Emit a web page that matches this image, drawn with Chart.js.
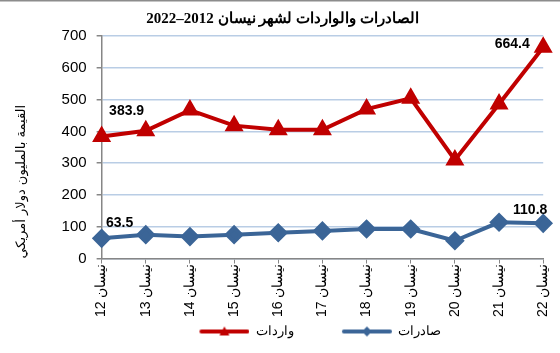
<!DOCTYPE html>
<html>
<head>
<meta charset="utf-8">
<script src="https://cdn.jsdelivr.net/npm/chart.js@4/dist/chart.umd.min.js"></script>
<style>
  html, body { margin: 0; padding: 0; background: #fff; }
  #wrap { width: 560px; height: 353px; }
</style>
</head>
<body>
<div id="wrap"><canvas id="chart" width="560" height="353"></canvas></div>
<script>
const years = ['12', '13', '14', '15', '16', '17', '18', '19', '20', '21', '22'];
const exportsData = [63.5, 75, 69, 75, 81, 87, 93, 93, 56, 114, 110.8];
const importsData = [383.9, 402, 467, 418, 405, 405, 470, 504, 310, 486, 664.4];
const yTicks = [0, 100, 200, 300, 400, 500, 600, 700];

const RLE = '\u202B', PDF = '\u202C';
const labels = years.map(y => RLE + 'نيسان ' + y + PDF);

const RED = '#c00000';
const BLUE = '#3b6597';
const AXIS = '#868686';

// legend swatch: a line with the marker in the middle, blank space on its left
function swatch(color, style) {
    const c = document.createElement('canvas');
    c.width = 90; c.height = 12;
    const g = c.getContext('2d');
    g.strokeStyle = color; g.fillStyle = color;
    g.lineWidth = 4; g.lineCap = 'round';
    g.beginPath(); g.moveTo(42, 6); g.lineTo(88, 6); g.stroke();
    g.beginPath();
    if (style === 'triangle') {
        g.moveTo(65, 1); g.lineTo(70, 10); g.lineTo(60, 10);
    } else {
        g.moveTo(65, 1); g.lineTo(70, 6); g.lineTo(65, 11); g.lineTo(60, 6);
    }
    g.closePath(); g.fill();
    return c;
}

// value labels on first/last points + top frame line
const valueLabels = {
    id: 'valueLabels',
    afterLayout(chart) {
        // nudge the legend a bit left of the plot centre
        chart.legend.left -= 22;
        chart.legend.right -= 22;
    },
    afterDatasetsDraw(chart) {
        const ctx = chart.ctx;
        const marks = [
            { ds: 0, i: 0, dx: 18, dy: -15 },
            { ds: 0, i: 10, dx: -13, dy: -13 },
            { ds: 1, i: 0, dx: 25, dy: -25 },
            { ds: 1, i: 10, dx: -31, dy: -3 }
        ];
        ctx.save();
        ctx.font = 'bold 14px "Liberation Sans", Arial, sans-serif';
        ctx.fillStyle = '#000';
        ctx.textAlign = 'center';
        ctx.textBaseline = 'middle';
        marks.forEach(m => {
            const pt = chart.getDatasetMeta(m.ds).data[m.i];
            const v = chart.data.datasets[m.ds].data[m.i];
            ctx.fillText(v.toFixed(1), pt.x + m.dx, pt.y + m.dy);
        });
        ctx.restore();
    },
    afterDraw(chart) {
        const ctx = chart.ctx;
        ctx.save();
        ctx.fillStyle = '#8c8c8c';
        ctx.fillRect(0, 0, chart.width, 1.5);
        ctx.restore();
    }
};

new Chart(document.getElementById('chart'), {
    type: 'line',
    data: {
        labels: labels,
        datasets: [{
            label: 'صادرات',
            data: exportsData,
            borderColor: BLUE,
            backgroundColor: BLUE,
            borderWidth: 4,
            pointStyle: 'rectRot',
            pointRadius: 7,
            pointHoverRadius: 7,
            tension: 0
        }, {
            label: 'واردات',
            data: importsData,
            borderColor: RED,
            backgroundColor: RED,
            borderWidth: 4,
            pointStyle: 'triangle',
            pointRadius: 7,
            pointHoverRadius: 7,
            tension: 0
        }]
    },
    options: {
        responsive: false,
        animation: false,
        events: [],
        layout: { padding: { top: 4, left: 14, right: 9, bottom: 5 } },
        plugins: {
            title: {
                display: true,
                text: RLE + 'الصادرات والواردات لشهر نيسان 2012–2022' + PDF,
                color: '#000',
                font: { family: '"Liberation Serif", "Times New Roman", serif', size: 15, weight: 'bold' },
                padding: { top: 6, bottom: 8 }
            },
            legend: {
                position: 'bottom',
                fullSize: false,
                reverse: true,
                labels: {
                    usePointStyle: true,
                    pointStyleWidth: 90,
                    padding: 8,
                    color: '#000',
                    font: { family: '"Liberation Sans", Arial, sans-serif', size: 13 },
                    generateLabels(chart) {
                        return chart.data.datasets.map((ds, i) => ({
                            text: ds.label,
                            fillStyle: ds.borderColor,
                            strokeStyle: ds.borderColor,
                            lineWidth: 0,
                            pointStyle: swatch(ds.borderColor, ds.pointStyle),
                            datasetIndex: i,
                            fontColor: '#000'
                        }));
                    }
                }
            },
            tooltip: { enabled: false }
        },
        scales: {
            x: {
                offset: false,
                border: { color: AXIS, width: 1.5 },
                grid: { drawOnChartArea: false, tickColor: AXIS, tickLength: 5 },
                ticks: {
                    minRotation: 90, maxRotation: 90,
                    color: '#000',
                    padding: 0,
                    font: { family: '"Liberation Sans", Arial, sans-serif', size: 14 }
                }
            },
            y: {
                min: 0, max: 700,
                afterBuildTicks(scale) { scale.ticks = yTicks.map(v => ({ value: v })); },
                border: { color: AXIS, width: 1.5 },
                grid: { color: '#b9cde5', lineWidth: 1.5, tickColor: AXIS, tickLength: 5 },
                ticks: {
                    color: '#000',
                    padding: 10,
                    font: { family: '"Liberation Sans", Arial, sans-serif', size: 15 }
                },
                title: {
                    display: true,
                    text: 'القيمة بالمليون دولار أمريكي',
                    align: 'start',
                    color: '#000',
                    padding: { top: 0, bottom: 22 },
                    font: { family: '"DejaVu Sans", sans-serif', size: 13 }
                }
            }
        }
    },
    plugins: [valueLabels]
});
</script>
</body>
</html>
